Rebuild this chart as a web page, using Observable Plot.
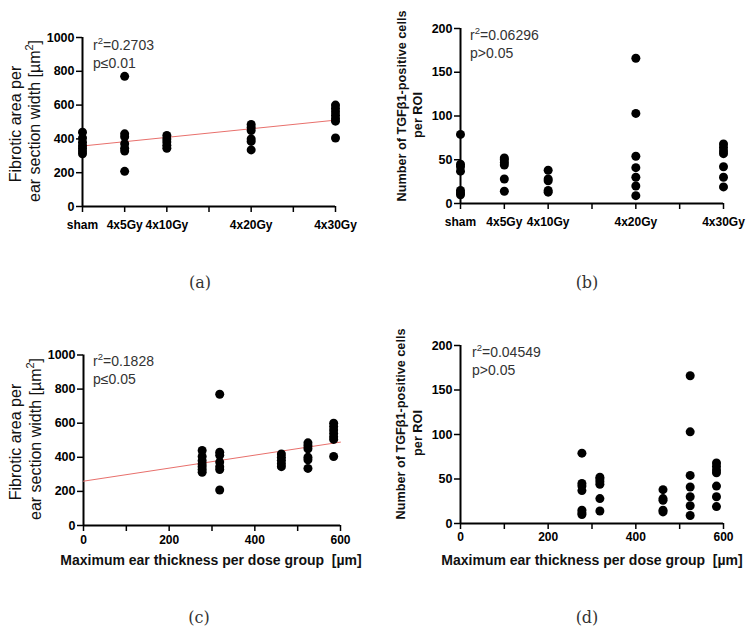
<!DOCTYPE html>
<html><head><meta charset="utf-8">
<script src="https://cdn.jsdelivr.net/npm/d3@7"></script>
<script src="https://cdn.jsdelivr.net/npm/@observablehq/plot@0.6"></script>
<style>
body{margin:0;background:#fff;}
#wrap{position:relative;width:756px;height:636px;overflow:hidden;background:#fff;}
#wrap svg{position:absolute;}
</style></head><body><div id="wrap"></div>
<script>
// ---- data ----
const doseGy = [0, 5, 10, 20, 30];
const doseLabels = ["sham", "4x5Gy", "4x10Gy", "4x20Gy", "4x30Gy"];
const thicknessUm = [277, 318, 462, 524, 584];
const fibroticArea = [
  [440, 405, 380, 360, 345, 328, 312],
  [770, 430, 412, 372, 345, 328, 208],
  [420, 400, 382, 362, 345],
  [485, 468, 450, 400, 385, 335],
  [600, 580, 560, 540, 520, 505, 405]
];
const tgfCells = [
  [79, 45, 42, 37, 15, 12, 10],
  [52, 50, 47, 44, 28, 14],
  [38, 28, 26, 15, 13],
  [166, 103, 54, 41, 30, 20, 9],
  [68, 64, 60, 57, 42, 30, 19]
];
const fitDoseX = [0, 30], fitDoseY = [358, 511];
const fitThickX = [0, 600], fitThickY = [260, 489];
const statsA = ["0.2703", "p≤0.01"];
const statsB = ["0.06296", "p>0.05"];
const statsC = ["0.1828", "p≤0.05"];
const statsD = ["0.04549", "p>0.05"];
const yTitleArea = ["Fibrotic area per", "ear section width [µm", "2", "]"];
const yTitleTgf = ["Number of TGFβ1-positive cells", "per ROI"];
const xTitleThick = "Maximum ear thickness per dose group  [µm]";

const FONT = "'Liberation Sans', Arial, Helvetica, sans-serif";
const wrap = document.getElementById("wrap");

function panel(o) {
  const rows = o.values.flatMap((vals, i) => vals.map(v => ({x: o.xs[i], y: v})));
  const marks = [
    Plot.ruleX([o.xDomain[0]], {y1: o.yDomain[0], y2: o.yDomain[1], stroke: "#000", strokeWidth: 2}),
    Plot.ruleY([o.yDomain[0]], {x1: o.xDomain[0], x2: o.xDomain[1], stroke: "#000", strokeWidth: 2}),
    Plot.axisY({ticks: o.yTicks, tickSize: 6, tickPadding: 2, strokeWidth: 1.5, label: null,
      tickFormat: d => String(d), fontWeight: "bold", fontSize: 12.5}),
    Plot.axisX({ticks: o.xTicks, tickSize: 6, tickPadding: o.xPad, strokeWidth: 1.5, label: null,
      tickFormat: o.xFmt, fontWeight: "bold", fontSize: 12})
  ];
  if (o.fit) {
    const fitRows = o.fit[0].map((x, i) => ({x, y: o.fit[1][i]}));
    marks.push(Plot.line(fitRows, {x: "x", y: "y", stroke: "#e8706c", strokeWidth: 1}));
  }
  marks.push(Plot.dot(rows, {x: "x", y: "y", r: 4.5, fill: "#000", stroke: null}));
  const svg = Plot.plot({
    width: o.w, height: o.h,
    marginLeft: o.ml, marginRight: o.mr, marginTop: o.mt, marginBottom: o.mb,
    x: {domain: o.xDomain, nice: false},
    y: {domain: o.yDomain, nice: false},
    style: {fontFamily: FONT, fontSize: "12.5px", background: "transparent", overflow: "visible", color: "#000"},
    marks
  });
  svg.style.left = o.left + "px";
  svg.style.top = o.top + "px";
  const s = d3.select(svg);
  // r² / p annotation
  const sx = o.ml + o.statDx, sy = o.mt + o.statDy;
  const t1 = s.append("text").attr("x", sx).attr("y", sy).attr("text-anchor", "start")
    .attr("font-family", FONT).attr("font-size", 14).attr("fill", "#333");
  t1.append("tspan").text("r");
  t1.append("tspan").attr("font-size", 9.5).attr("dy", -6).text("2");
  t1.append("tspan").attr("dy", 6).text("=" + o.stats[0]);
  s.append("text").attr("x", sx).attr("y", sy + 18).attr("text-anchor", "start")
    .attr("font-family", FONT).attr("font-size", 14).attr("fill", "#333").text(o.stats[1]);
  // y title (two lines, rotated)
  o.yTitleLines.forEach((t, i) => {
    const tx = s.append("text")
      .attr("transform", `translate(${o.yTitleX[i] - o.left},${o.yTitleY[i] - o.top}) rotate(-90)`)
      .attr("text-anchor", "middle").attr("dominant-baseline", "middle")
      .attr("font-family", FONT).attr("font-size", o.yTitleSize)
      .attr("font-weight", o.yTitleWeight).attr("fill", "#111");
    if (Array.isArray(t)) {
      tx.append("tspan").text(t[0]);
      tx.append("tspan").attr("font-size", o.yTitleSize * 0.68).attr("dy", -6).text(t[1]);
      tx.append("tspan").attr("dy", 6).text(t[2]);
    } else tx.text(t);
  });
  if (o.xTitle) {
    s.append("text").attr("x", o.xTitlePos[0] - o.left).attr("y", o.xTitlePos[1] - o.top)
      .attr("text-anchor", "middle").attr("font-family", FONT).attr("font-size", 14)
      .attr("font-weight", "bold").attr("fill", "#111").text(o.xTitle);
  }
  s.append("text").attr("x", o.tag[1] - o.left).attr("y", o.tag[2] - o.top)
    .attr("text-anchor", "middle").attr("dominant-baseline", "middle")
    .attr("font-family", "'Palatino Linotype','Book Antiqua','DejaVu Serif','Liberation Serif',serif")
    .attr("font-size", 16).attr("fill", "#333").text(o.tag[0]);
  wrap.appendChild(svg);
}

const doseTicks = [0, 5, 10, 15, 20, 25, 30];
const doseFmt = d => { const i = doseGy.indexOf(d); return i >= 0 ? doseLabels[i] : ""; };
const thickTicks = [0, 100, 200, 300, 400, 500, 600];
const thickFmt = d => d % 200 === 0 ? String(d) : "";
const areaLines = [yTitleArea[0], yTitleArea.slice(1)];

panel({left: 0, top: 0, w: 378, h: 300, ml: 82, mr: 43, mt: 37, mb: 94,
  xs: doseGy, values: fibroticArea, xDomain: [0, 30], yDomain: [0, 1000],
  xTicks: doseTicks, xFmt: doseFmt, xPad: 8, yTicks: [0, 200, 400, 600, 800, 1000],
  fit: [fitDoseX, fitDoseY], stats: statsA, statDx: 11, statDy: 13,
  yTitleLines: areaLines, yTitleX: [17, 36], yTitleY: [124, 121], yTitleSize: 16, yTitleWeight: "normal",
  tag: ["(a)", 200, 283]});

panel({left: 378, top: 0, w: 378, h: 300, ml: 82, mr: 33, mt: 28, mb: 97,
  xs: doseGy, values: tgfCells, xDomain: [0, 30], yDomain: [0, 200],
  xTicks: doseTicks, xFmt: doseFmt, xPad: 8, yTicks: [0, 50, 100, 150, 200],
  fit: null, stats: statsB, statDx: 10, statDy: 12,
  yTitleLines: yTitleTgf, yTitleX: [403, 419], yTitleY: [106, 115], yTitleSize: 12.7, yTitleWeight: "bold",
  tag: ["(b)", 587, 283]});

panel({left: 0, top: 300, w: 378, h: 336, ml: 83, mr: 38, mt: 54.5, mb: 111,
  xs: thicknessUm, values: fibroticArea, xDomain: [0, 600], yDomain: [0, 1000],
  xTicks: thickTicks, xFmt: thickFmt, xPad: 4, yTicks: [0, 200, 400, 600, 800, 1000],
  fit: [fitThickX, fitThickY], stats: statsC, statDx: 10, statDy: 11,
  yTitleLines: areaLines, yTitleX: [17, 37], yTitleY: [442, 439], yTitleSize: 16, yTitleWeight: "normal",
  xTitle: xTitleThick, xTitlePos: [211, 565],
  tag: ["(c)", 199, 618]});

panel({left: 378, top: 300, w: 378, h: 336, ml: 82, mr: 33, mt: 45, mb: 113,
  xs: thicknessUm, values: tgfCells, xDomain: [0, 600], yDomain: [0, 200],
  xTicks: thickTicks, xFmt: thickFmt, xPad: 3, yTicks: [0, 50, 100, 150, 200],
  fit: null, stats: statsD, statDx: 12, statDy: 12,
  yTitleLines: yTitleTgf, yTitleX: [402, 419], yTitleY: [424, 433], yTitleSize: 12.7, yTitleWeight: "bold",
  xTitle: xTitleThick, xTitlePos: [592, 565],
  tag: ["(d)", 587, 618]});
</script></body></html>
